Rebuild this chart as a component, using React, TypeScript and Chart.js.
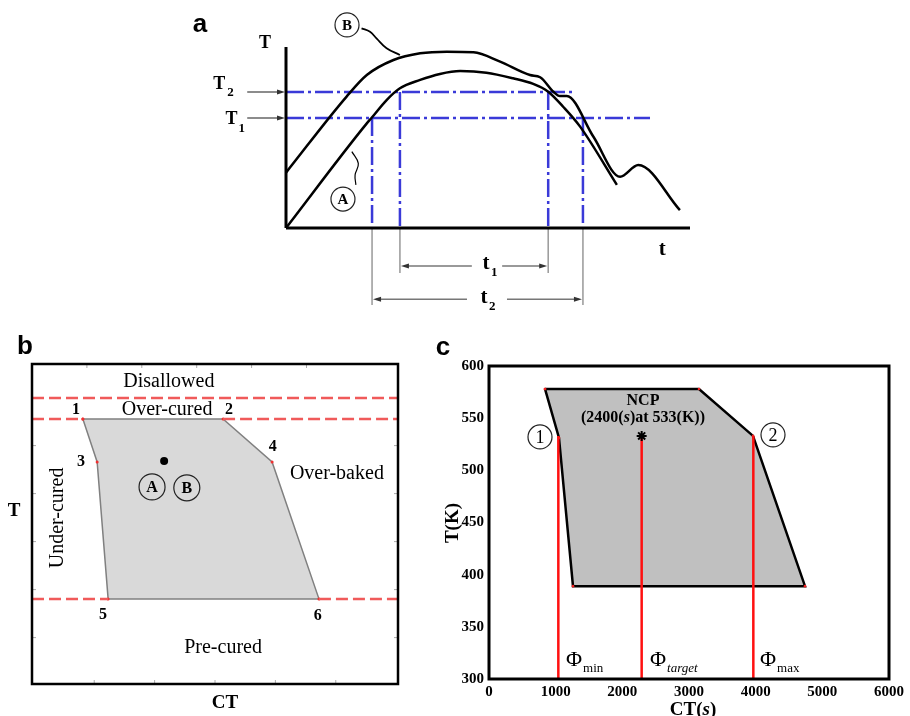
import React, { useEffect, useRef } from 'react';
import { Chart, registerables } from 'chart.js';
Chart.register(...registerables);

const SERIF = '"Liberation Serif", "Times New Roman", serif';
const SANS = '"Liberation Sans", Arial, sans-serif';

// ---------- Panel a: schematic temperature profiles (t, T in 0..100 units) ----------
const timeA = [0, 20.0, 21.2, 24.9, 28.2, 33.2, 38.1, 43.1, 49.6, 56.2, 61.2, 64.9, 68.6, 72.8, 81.9];
const tempA = [0, 57.8, 60.9, 70.7, 77.2, 81.8, 85.1, 86.7, 85.8, 82.7, 79.6, 75.3, 67.0, 56.0, 23.8];
const timeB = [0, 15.0, 20.0, 26.6, 33.2, 39.8, 46.4, 53.0, 60.4, 62.9, 66.2, 67.8, 69.5, 76.1, 82.7, 87.2, 97.5];
const tempB = [30.6, 72.6, 84.5, 92.8, 96.5, 97.4, 97.1, 91.9, 84.5, 83.3, 75.3, 72.9, 72.9, 50.4, 28.3, 34.8, 9.9];
const levelT1 = 60.8;
const levelT2 = 75.1;
const endT1 = 90.1;
const endT2 = 71.5;
const windowT2 = [28.2, 64.9]; // t1 interval (above T2)
const windowT1 = [21.3, 73.5]; // t2 interval (above T1)
const leaderBt = [18.7, 20.8, 22.4, 24.9, 28.2];
const leaderBT = [110.3, 108.4, 104.8, 99.3, 95.6];
const leaderAt = [16.3, 17.9, 17.1, 17.3];
const leaderAT = [42.2, 35.7, 29.3, 23.8];

// ---------- Panel b: schematic process window (CT, T in 0..100 units) ----------
const zoneCT = [13.9, 52.2, 65.6, 78.4, 20.8, 17.8, 13.9];
const zoneT = [82.8, 82.8, 69.4, 26.6, 26.6, 69.4, 82.8];
const zoneLabels = ['1', '2', '4', '6', '5', '3'];
const disallowedT = 89.4;
const overCuredT = 82.8;
const preCuredT = 26.6;
const pointAB = [36.1, 69.7];
const frameTicksB = [15, 30, 45, 60, 75];

// ---------- Panel c: process window, CT (s) vs T (K) ----------
const windowCT = [840, 3150, 3960, 4740, 1260, 1050, 840];
const windowTK = [578, 578, 533, 389, 389, 531, 578];
const phiCT = [1040, 2290, 3965];
const phiTop = 533;
const phiBottom = 300;
const phiNames = ['min', 'target', 'max'];
const ncpPoint = [2290, 533];
const ctRange = [0, 6000];
const ctStep = 1000;
const tkRange = [300, 600];
const tkStep = 50;

const pts = (xs: number[], ys: number[]) => xs.map((x, i) => ({ x, y: ys[i] }));

const seg = (data: any[], color: string, width: number, dash: number[] = [], order = 5, extra: any = {}) => ({
  data,
  showLine: true,
  borderColor: color,
  borderWidth: width,
  borderDash: dash,
  pointRadius: 0,
  fill: false,
  tension: 0,
  clip: false,
  order,
  ...extra,
});

function text(ctx: CanvasRenderingContext2D, s: string, x: number, y: number, font: string, align: CanvasTextAlign = 'center', rot = 0, color = '#000') {
  ctx.save();
  ctx.font = font;
  ctx.fillStyle = color;
  ctx.textAlign = align;
  ctx.textBaseline = 'middle';
  ctx.translate(x, y);
  if (rot) ctx.rotate(rot);
  ctx.fillText(s, 0, 0);
  ctx.restore();
}

function circled(ctx: CanvasRenderingContext2D, s: string, x: number, y: number, r: number, font: string) {
  ctx.save();
  ctx.beginPath();
  ctx.arc(x, y, r, 0, Math.PI * 2);
  ctx.strokeStyle = '#222';
  ctx.lineWidth = 1.2;
  ctx.stroke();
  ctx.restore();
  text(ctx, s, x, y + 1, font);
}

function arrowHead(ctx: CanvasRenderingContext2D, x: number, y: number, dir: number, color: string) {
  ctx.save();
  ctx.fillStyle = color;
  ctx.beginPath();
  ctx.moveTo(x, y);
  ctx.lineTo(x - dir * 8, y - 2.5);
  ctx.lineTo(x - dir * 8, y + 2.5);
  ctx.closePath();
  ctx.fill();
  ctx.restore();
}

function hline(ctx: CanvasRenderingContext2D, x1: number, x2: number, y: number, color: string, w: number) {
  ctx.save();
  ctx.strokeStyle = color;
  ctx.lineWidth = w;
  ctx.beginPath();
  ctx.moveTo(x1, y);
  ctx.lineTo(x2, y);
  ctx.stroke();
  ctx.restore();
}

function richText(ctx: CanvasRenderingContext2D, parts: [string, string][], cx: number, cy: number) {
  ctx.save();
  let total = 0;
  parts.forEach(([s, f]) => { ctx.font = f; total += ctx.measureText(s).width; });
  let x0 = cx - total / 2;
  ctx.textBaseline = 'middle';
  ctx.textAlign = 'left';
  ctx.fillStyle = '#000';
  parts.forEach(([s, f]) => { ctx.font = f; ctx.fillText(s, x0, cy); x0 += ctx.measureText(s).width; });
  ctx.restore();
}

const baseOptions = (padding: any, xr: number[], yr: number[]) => ({
  animation: false,
  responsive: false,
  maintainAspectRatio: false,
  events: [],
  layout: { padding },
  scales: {
    x: { type: 'linear', display: false, min: xr[0], max: xr[1] },
    y: { type: 'linear', display: false, min: yr[0], max: yr[1] },
  },
  plugins: { legend: { display: false }, tooltip: { enabled: false } },
});

// ---------------- Panel a ----------------
const annotA = {
  id: 'annotA',
  afterDatasetsDraw(chart: any) {
    const { ctx } = chart;
    const X = (v: number) => chart.scales.x.getPixelForValue(v);
    const Y = (v: number) => chart.scales.y.getPixelForValue(v);
    const gray = '#666';
    [levelT1, levelT2].forEach((T) => {
      hline(ctx, X(-9.6), X(0) - 6, Y(T), gray, 1.5);
      arrowHead(ctx, X(0) - 1, Y(T), 1, '#333');
    });
    const dim = (a: number, b: number, T: number, g1: number, g2: number) => {
      hline(ctx, X(a) + 4, X(g1), Y(T), '#777', 1.5);
      hline(ctx, X(g2), X(b) - 4, Y(T), '#777', 1.5);
      arrowHead(ctx, X(a) + 1, Y(T), -1, '#333');
      arrowHead(ctx, X(b) - 1, Y(T), 1, '#333');
    };
    dim(windowT2[0], windowT2[1], -21.0, 46.0, 53.5);
    dim(windowT1[0], windowT1[1], -39.4, 44.8, 54.7);
    const bold = (n: number) => `bold ${n}px ${SERIF}`;
    text(ctx, 'a', X(-21.3), Y(112.5), `bold 26px ${SANS}`);
    text(ctx, 'T', X(-5.2), Y(102.2), bold(18));
    text(ctx, 't', X(93.1), Y(-12.0), bold(21));
    text(ctx, 'T', X(-16.5), Y(79.6), bold(18));
    text(ctx, '2', X(-16.5) + 8, Y(79.6) + 9, bold(13), 'left');
    text(ctx, 'T', X(-13.5), Y(60.2), bold(18));
    text(ctx, '1', X(-13.5) + 7, Y(60.2) + 10, bold(13), 'left');
    text(ctx, 't', X(49.5), Y(-19.9), bold(21));
    text(ctx, '1', X(49.5) + 5, Y(-19.9) + 9, bold(13), 'left');
    text(ctx, 't', X(49.0), Y(-38.7), bold(21));
    text(ctx, '2', X(49.0) + 5, Y(-38.7) + 9, bold(13), 'left');
    circled(ctx, 'B', X(15.1), Y(112.2), 12, bold(15));
    circled(ctx, 'A', X(14.1), Y(16.0), 12, bold(15));
  },
};

function PanelA() {
  const ref = useRef<HTMLCanvasElement>(null);
  useEffect(() => {
    const blue = '#3a3ad8';
    const dd = [18, 4, 3, 4];
    const datasets: any[] = [
      seg([{ x: 0, y: levelT2 }, { x: endT2, y: levelT2 }], blue, 2.5, dd, 6),
      seg([{ x: 0, y: levelT1 }, { x: endT1, y: levelT1 }], blue, 2.5, dd, 6),
      ...windowT2.map((t) => seg([{ x: t, y: levelT2 }, { x: t, y: 0 }], blue, 2.5, dd, 6)),
      ...windowT1.map((t) => seg([{ x: t, y: levelT1 }, { x: t, y: 0 }], blue, 2.5, dd, 6)),
      ...windowT2.map((t) => seg([{ x: t, y: 0 }, { x: t, y: -24.9 }], '#999', 1.5, [], 6)),
      ...windowT1.map((t) => seg([{ x: t, y: 0 }, { x: t, y: -42.5 }], '#999', 1.5, [], 6)),
      seg(pts(timeA, tempA), '#000', 2.5, [], 2, { cubicInterpolationMode: 'monotone' }),
      seg(pts(timeB, tempB), '#000', 2.5, [], 2, { cubicInterpolationMode: 'monotone' }),
      seg(pts(leaderBt, leaderBT), '#000', 1.8, [], 2, { tension: 0.4 }),
      seg(pts(leaderAt, leaderAT), '#000', 1.2, [], 2, { tension: 0.4 }),
      seg([{ x: 0, y: 0 }, { x: 100, y: 0 }], '#000', 3, [], 1),
      seg([{ x: 0, y: 0 }, { x: 0, y: 100 }], '#000', 3, [], 1),
    ];
    const opts: any = baseOptions({ left: 106, top: 47, right: 10, bottom: 92 }, [0, 100], [0, 100]);
    opts.elements = { line: { capBezierPoints: false } };
    const chart = new Chart(ref.current!, { type: 'scatter', data: { datasets }, options: opts, plugins: [annotA] } as any);
    return () => chart.destroy();
  }, []);
  return <canvas ref={ref} width={520} height={320} style={{ position: 'absolute', left: 180, top: 0 }} />;
}

// ---------------- Panel b ----------------
const annotB = {
  id: 'annotB',
  afterDatasetsDraw(chart: any) {
    const { ctx, chartArea: a } = chart;
    const X = (v: number) => chart.scales.x.getPixelForValue(v);
    const Y = (v: number) => chart.scales.y.getPixelForValue(v);
    ctx.save();
    ctx.strokeStyle = '#aaa';
    ctx.lineWidth = 1;
    frameTicksB.forEach((v) => {
      const xv = v * 1.1 + 0.5;
      ctx.beginPath();
      ctx.moveTo(X(xv), a.bottom);
      ctx.lineTo(X(xv), a.bottom - 4);
      ctx.moveTo(X(v), a.top);
      ctx.lineTo(X(v), a.top + 4);
      ctx.moveTo(a.left, Y(v - 0.5));
      ctx.lineTo(a.left + 4, Y(v - 0.5));
      ctx.moveTo(a.right, Y(v - 0.5));
      ctx.lineTo(a.right - 4, Y(v - 0.5));
      ctx.stroke();
    });
    ctx.strokeStyle = '#000';
    ctx.lineWidth = 2.5;
    ctx.strokeRect(a.left, a.top, a.right - a.left, a.bottom - a.top);
    ctx.restore();
    const reg = (n: number) => `${n}px ${SERIF}`;
    const bold = (n: number) => `bold ${n}px ${SERIF}`;
    text(ctx, 'b', X(-1.9), Y(105.3), `bold 26px ${SANS}`);
    text(ctx, 'Disallowed', X(37.4), Y(94.4), reg(20));
    text(ctx, 'Over-cured', X(36.9), Y(85.6), reg(20));
    text(ctx, 'Over-baked', X(83.3), Y(65.6), reg(20));
    text(ctx, 'Pre-cured', X(52.2), Y(11.3), reg(20));
    text(ctx, 'Under-cured', X(7.1), Y(51.9), reg(20), 'center', -Math.PI / 2);
    const labelPos = [[12.0, 85.6], [53.8, 85.6], [65.8, 74.1], [78.1, 21.3], [19.4, 21.6], [13.4, 69.4]];
    zoneLabels.forEach((s, i) => text(ctx, s, X(labelPos[i][0]), Y(labelPos[i][1]), bold(16)));
    circled(ctx, 'A', X(32.8), Y(61.6), 13, bold(16));
    circled(ctx, 'B', X(42.3), Y(61.3), 13, bold(16));
    text(ctx, 'T', X(-4.9), Y(54.1), bold(19));
    text(ctx, 'CT', X(52.7), Y(-5.9), bold(19));
  },
};

function PanelB() {
  const ref = useRef<HTMLCanvasElement>(null);
  useEffect(() => {
    const red = '#f05a5a';
    const dash = [12, 5];
    const datasets: any[] = [
      seg([{ x: 0, y: disallowedT }, { x: 100, y: disallowedT }], red, 2.5, dash, 3),
      seg([{ x: 0, y: overCuredT }, { x: zoneCT[0], y: overCuredT }], red, 2.5, dash, 3),
      seg([{ x: zoneCT[1], y: overCuredT }, { x: 100, y: overCuredT }], red, 2.5, dash, 3),
      seg([{ x: 0, y: preCuredT }, { x: zoneCT[4], y: preCuredT }], red, 2.5, dash, 3),
      seg([{ x: zoneCT[3], y: preCuredT }, { x: 100, y: preCuredT }], red, 2.5, dash, 3),
      seg(pts(zoneCT, zoneT), '#808080', 1.5, [], 4, {
        fill: 'shape',
        backgroundColor: '#d9d9d9',
        pointRadius: 1.5,
        pointBackgroundColor: '#f03030',
        pointBorderWidth: 0,
      }),
      { data: [{ x: pointAB[0], y: pointAB[1] }], pointRadius: 4, pointBackgroundColor: '#000', pointBorderWidth: 0, order: 1 },
    ];
    const chart = new Chart(ref.current!, {
      type: 'scatter',
      data: { datasets },
      options: baseOptions({ left: 32, top: 34, right: 42, bottom: 32 }, [0, 100], [0, 100]),
      plugins: [annotB],
    } as any);
    return () => chart.destroy();
  }, []);
  return <canvas ref={ref} width={440} height={386} style={{ position: 'absolute', left: 0, top: 330 }} />;
}

// ---------------- Panel c ----------------
const annotC = {
  id: 'annotC',
  afterDatasetsDraw(chart: any) {
    const { ctx, chartArea: a } = chart;
    const X = (v: number) => chart.scales.x.getPixelForValue(v);
    const Y = (v: number) => chart.scales.y.getPixelForValue(v);
    ctx.save();
    ctx.strokeStyle = '#000';
    ctx.lineWidth = 3;
    ctx.strokeRect(a.left, a.top, a.right - a.left, a.bottom - a.top);
    ctx.restore();
    const bold = (n: number) => `bold ${n}px ${SERIF}`;
    text(ctx, 'c', X(-690), Y(617.5), `bold 26px ${SANS}`);
    text(ctx, 'NCP', X(2310), Y(566.5), bold(16));
    richText(ctx, [['(2400(', bold(16)], ['s', `bold italic 16px ${SERIF}`], [')at 533(K))', bold(16)]], X(2310), Y(550.5));
    circled(ctx, '1', X(765), Y(532), 12, `18px ${SERIF}`);
    circled(ctx, '2', X(4260), Y(534), 12, `18px ${SERIF}`);
    const phiLeft = [1155, 2415, 4065];
    phiNames.forEach((nm, i) => {
      const px = X(phiLeft[i]);
      const py = Y(318);
      ctx.save();
      ctx.font = `22px ${SERIF}`;
      ctx.textBaseline = 'middle';
      ctx.textAlign = 'left';
      ctx.fillStyle = '#000';
      ctx.fillText('Φ', px, py);
      const w = ctx.measureText('Φ').width;
      ctx.font = nm === 'target' ? `italic 13px ${SERIF}` : `13px ${SERIF}`;
      ctx.fillText(nm, px + w + 1, py + 8);
      ctx.restore();
    });
    text(ctx, 'T(K)', X(-540), Y(449.5), bold(19), 'center', -Math.PI / 2);
    richText(ctx, [['CT(', bold(19)], ['s', `bold italic 19px ${SERIF}`], [')', bold(19)]], X(3060), Y(270.5));
  },
};

function PanelC() {
  const ref = useRef<HTMLCanvasElement>(null);
  useEffect(() => {
    const datasets: any[] = [
      seg(pts(windowCT, windowTK), '#000', 2.5, [], 5, {
        fill: 'shape',
        backgroundColor: '#c0c0c0',
        pointRadius: 1.3,
        pointBackgroundColor: '#f02020',
        pointBorderWidth: 0,
      }),
      ...phiCT.map((ct) => seg([{ x: ct, y: phiTop }, { x: ct, y: phiBottom }], '#ff1010', 2.5, [], 3)),
      {
        data: [{ x: ncpPoint[0], y: ncpPoint[1] }],
        pointStyle: 'star',
        pointRadius: 5,
        pointBorderColor: '#000',
        pointBorderWidth: 2,
        order: 1,
        clip: false,
      },
    ];
    const tickFont = { family: SERIF, weight: 'bold', size: 15 };
    const chart = new Chart(ref.current!, {
      type: 'scatter',
      data: { datasets },
      options: {
        animation: false,
        responsive: false,
        maintainAspectRatio: false,
        events: [],
        layout: { padding: { left: 0, top: 36, right: 21, bottom: 0 } },
        scales: {
          x: {
            type: 'linear',
            min: ctRange[0],
            max: ctRange[1],
            grid: { display: false, drawTicks: false },
            border: { display: false },
            ticks: { stepSize: ctStep, font: tickFont, color: '#000', padding: 4, maxRotation: 0, callback: (v: any) => String(v) },
            afterFit: (s: any) => { s.height = 37; },
          },
          y: {
            type: 'linear',
            min: tkRange[0],
            max: tkRange[1],
            grid: { display: false, drawTicks: false },
            border: { display: false },
            ticks: { stepSize: tkStep, font: tickFont, color: '#000', padding: 5, callback: (v: any) => String(v) },
            afterFit: (s: any) => { s.width = 59; },
          },
        },
        plugins: { legend: { display: false }, tooltip: { enabled: false } },
      },
      plugins: [annotC],
    } as any);
    return () => chart.destroy();
  }, []);
  return <canvas ref={ref} width={480} height={386} style={{ position: 'absolute', left: 430, top: 330 }} />;
}

export default function App() {
  return (
    <div style={{ position: 'fixed', left: 0, top: 0, width: 910, height: 716, background: '#fff', overflow: 'hidden' }}>
      <PanelA />
      <PanelB />
      <PanelC />
    </div>
  );
}
